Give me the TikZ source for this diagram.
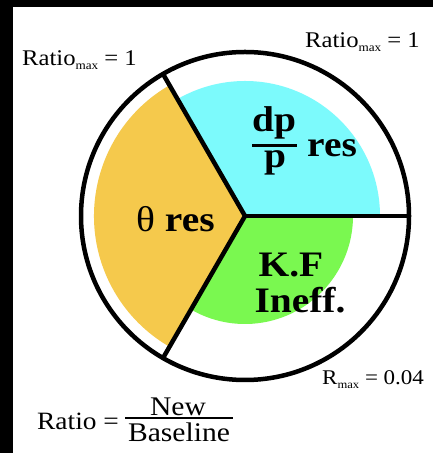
\documentclass[tikz,border=0pt]{standalone}
\usepackage{fontspec}
\setmainfont[FakeStretch=1.1]{Liberation Serif}
\definecolor{cyanw}{RGB}{124,250,252}
\definecolor{orangew}{RGB}{245,201,76}
\definecolor{greenw}{RGB}{122,248,80}
\tikzset{
  rim/.style={line width=4.5bp, black},
  lbl/.style={inner sep=0pt, anchor=base west, font=\fontsize{22.5}{26}\selectfont},
  big/.style={inner sep=0pt, anchor=base, font=\fontsize{36}{40}\selectfont\bfseries},
}
\begin{document}
\begin{tikzpicture}[x=1bp,y=1bp]
\useasboundingbox (0,0) rectangle (433,453);
\fill[black] (0,0) rectangle (433,453);
\fill[white] (13,0) rectangle (433,446);
\coordinate (C) at (245,237);
% wedges
\fill[cyanw] (C) -- ++(0:135) arc[start angle=0,end angle=120,radius=135] -- cycle;
\fill[orangew] (C) -- ++(120:151) arc[start angle=120,end angle=240,radius=151] -- cycle;
\fill[greenw] (C) -- ++(240:108) arc[start angle=240,end angle=360,radius=108] -- cycle;
% rim and spokes
\draw[rim] (C) circle[radius=164];
\path (C) ++(0:164) coordinate (P0);
\path (C) ++(120:164) coordinate (P1);
\path (C) ++(240:164) coordinate (P2);
\draw[rim] (C) -- (P0);
\draw[rim] (C) -- (P1);
\draw[rim] (C) -- (P2);
% small labels
\node[lbl] (tl) at (22,387) {Ratio\raisebox{-0.35ex}{\fontsize{12}{14}\selectfont max} = 1};
\node[lbl] (tr) at (305,405) {Ratio\raisebox{-0.35ex}{\fontsize{12}{14}\selectfont max} = 1};
\node[lbl, font=\fontsize{21}{24}\selectfont] (rm) at (322,68) {R\raisebox{-0.35ex}{\fontsize{11.5}{14}\selectfont max} = 0.04};
% equation
\node[lbl, font=\fontsize{25}{27}\selectfont] (eq) at (37,23) {Ratio =};
\node[inner sep=0pt, anchor=base, font=\fontsize{27}{29}\selectfont] (nw) at (178,37) {New};
\node[inner sep=0pt, anchor=base, font=\fontsize{27}{29}\selectfont] (bl) at (179,11) {Baseline};
\coordinate (fa) at (125,35);
\coordinate (fb) at (233,35);
\draw[line width=1.5bp] (fa) -- (fb);
% big labels
\node[inner sep=0pt, anchor=base west, font=\fontsize{36}{40}\selectfont] (th) at (136,221.5) {θ \textbf{res}};
\node[big] (dp) at (274,321) {dp};
\node[big] (pp) at (275,285) {p};
\coordinate (ga) at (252,307);
\coordinate (gb) at (297,307);
\draw[line width=3bp] (ga) -- (gb);
\node[big, anchor=base west] (rs) at (307,296) {res};
\node[big] (kf) at (291,176) {K.F};
\node[big] (in) at (300,140) {Ineff.};
\end{tikzpicture}
\end{document}
